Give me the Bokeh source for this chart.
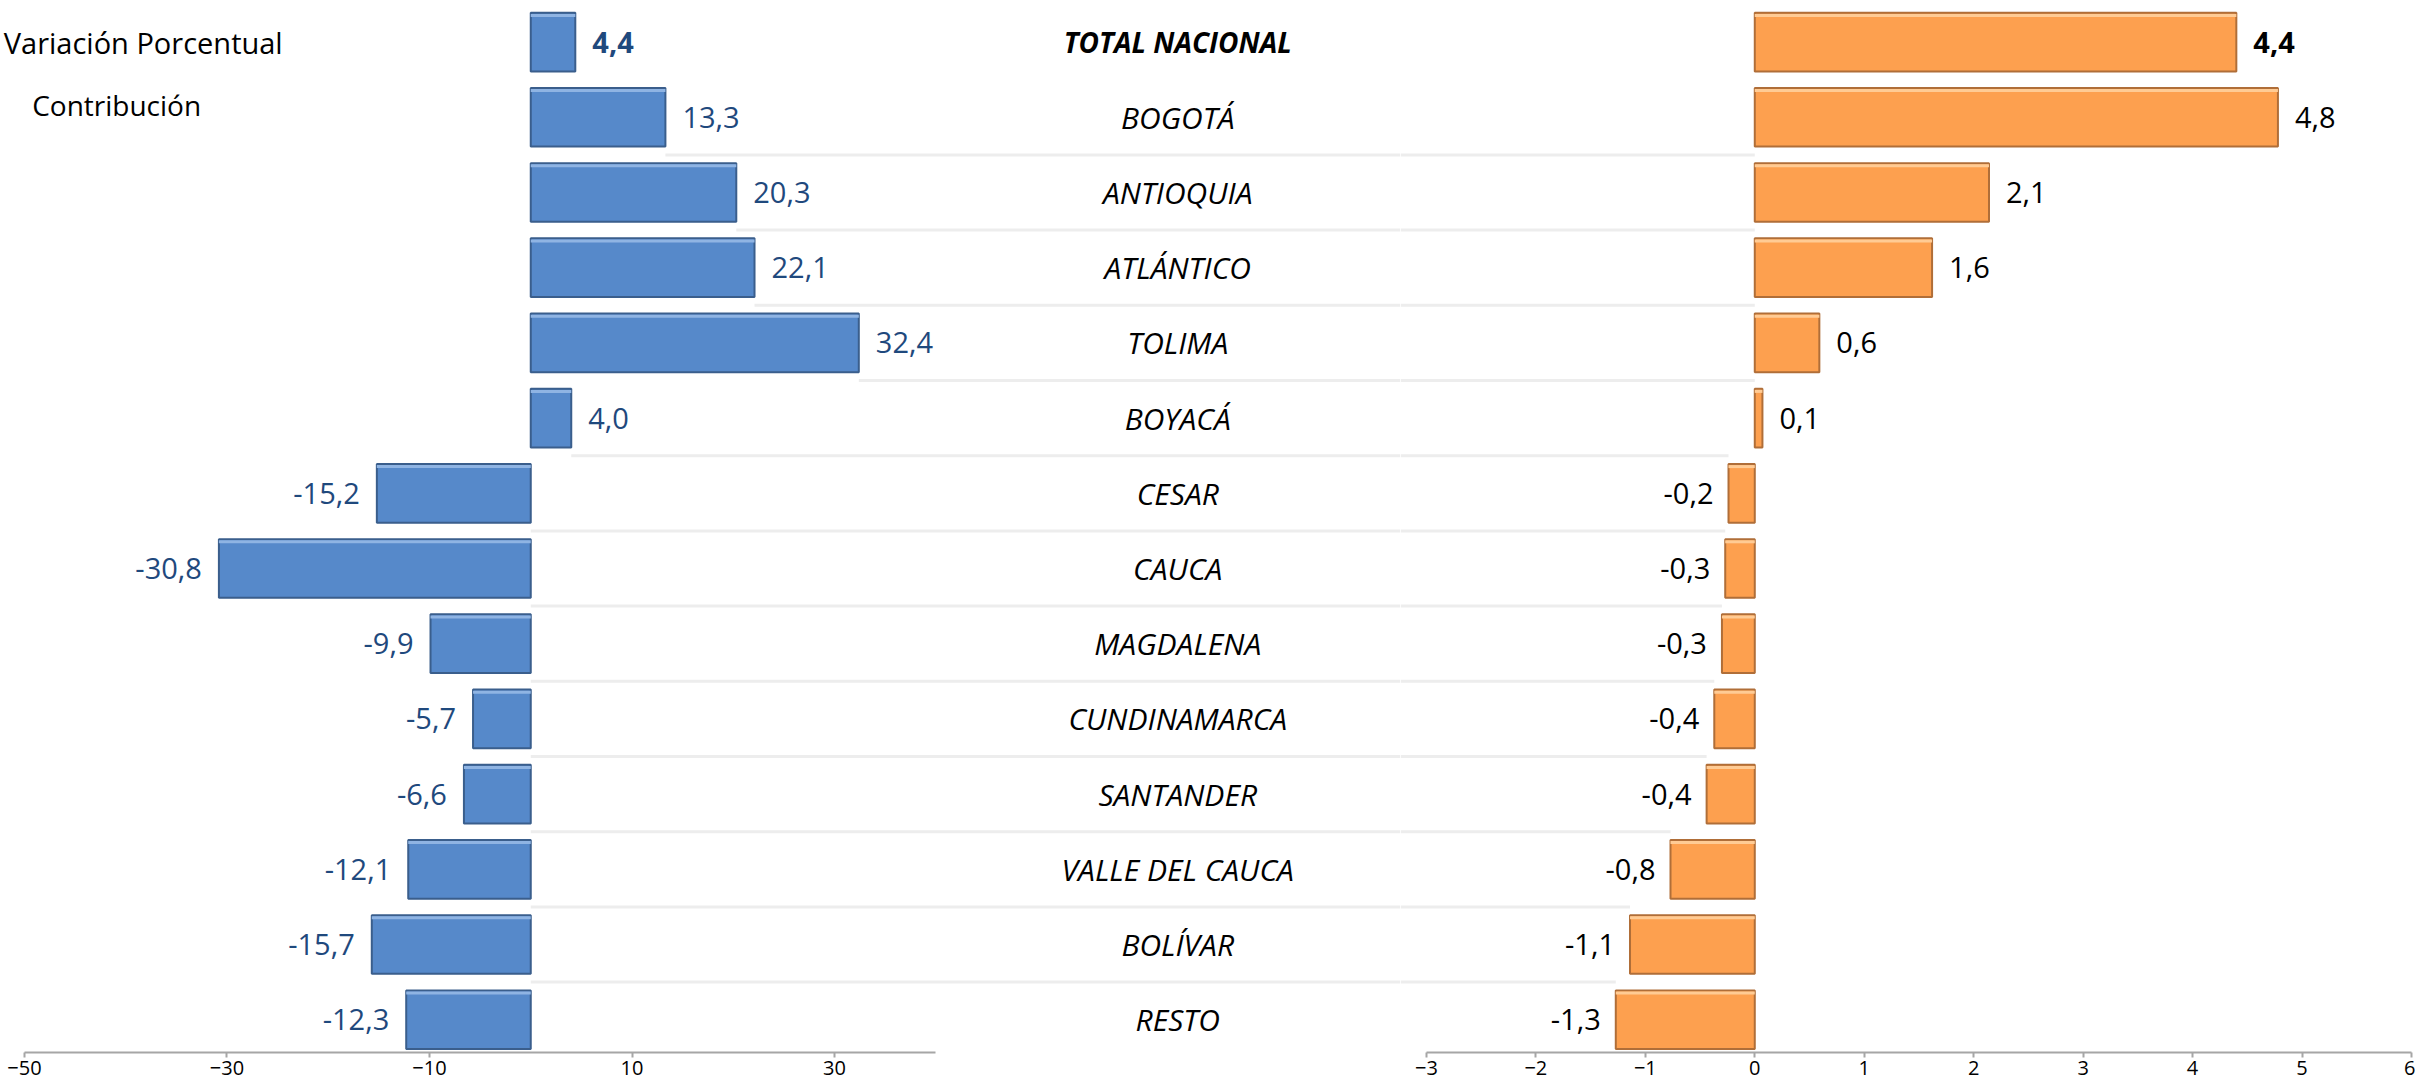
from bokeh.plotting import figure
from bokeh.layouts import row
from bokeh.models import Range1d, FixedTicker, ColumnDataSource, Label
from bokeh.core.properties import value
from bokeh.embed import file_html
from bokeh.resources import INLINE

# ---------------- data ----------------
categories = ["TOTAL NACIONAL", "BOGOTÁ", "ANTIOQUIA", "ATLÁNTICO", "TOLIMA", "BOYACÁ",
              "CESAR", "CAUCA", "MAGDALENA", "CUNDINAMARCA", "SANTANDER",
              "VALLE DEL CAUCA", "BOLÍVAR", "RESTO"]
variacion = [4.4, 13.3, 20.3, 22.1, 32.4, 4.0, -15.2, -30.8, -9.9, -5.7, -6.6, -12.1, -15.7, -12.3]
contribucion = [4.4, 4.78, 2.14, 1.62, 0.59, 0.07, -0.24, -0.27, -0.30, -0.37, -0.44, -0.77, -1.14, -1.27]
left_ticks = [-50, -30, -10, 10, 30]
right_ticks = [-3, -2, -1, 0, 1, 2, 3, 4, 5, 6]
legend_labels = ["Variación Porcentual", "Contribución"]

# ---------------- styles ----------------
FONT = "Open Sans"
BLUE = "#5689CA"
BLUE_DARK = "#3A5E8C"
BLUE_HI = "#8FB4E3"
BLUE_TXT = "#1F497D"
ORANGE = "#FDA04F"
ORANGE_DARK = "#B06E38"
ORANGE_HI = "#FFCB94"
AXIS_GRAY = "#A6A6A6"
SEP = "#EDEDED"
ROW_H = 0.78

n = len(categories)
ys = list(range(n))


def fmt(v):
    return f"{v:.1f}".replace(".", ",")


y_rng = Range1d(13.436, -0.553)
styles = ["bold"] + ["normal"] * (n - 1)


def base_fig(width, xr, bounds, ticks):
    p = figure(width=width, height=1081, x_range=xr, y_range=y_rng,
               output_backend="svg", toolbar_location=None, y_axis_location=None,
               min_border_left=0, min_border_right=0, min_border_top=0,
               min_border_bottom=29, outline_line_color=None,
               background_fill_color="white", border_fill_color="white")
    p.grid.visible = False
    ax = p.xaxis[0]
    ax.ticker = FixedTicker(ticks=ticks)
    ax.bounds = bounds
    ax.axis_line_color = AXIS_GRAY
    ax.axis_line_width = 2
    ax.major_tick_line_color = AXIS_GRAY
    ax.major_tick_line_width = 2
    ax.major_tick_out = 5
    ax.major_tick_in = 0
    ax.minor_tick_line_color = None
    ax.major_label_standoff = 3
    ax.major_label_text_font = FONT
    ax.major_label_text_font_size = "20px"
    ax.major_label_text_color = "#000000"
    return p


# ---------------- left panel: Variación porcentual ----------------
L_START, L_END = -52.37, 85.90
p1 = base_fig(1400, Range1d(L_START, L_END), (-50, 40), left_ticks)

# row separators
sep_rows = list(range(1, n - 1))
p1.segment(x0=[max(0, variacion[i]) for i in sep_rows], x1=[L_END] * len(sep_rows),
           y0=[i + 0.5 for i in sep_rows], y1=[i + 0.5 for i in sep_rows],
           line_color=SEP, line_width=3)

src1 = ColumnDataSource(dict(
    y=ys, v=variacion,
    y_hi=[y - ROW_H / 2 + 0.035 for y in ys],
    lab=[fmt(v) for v in variacion],
    align=["left" if v >= 0 else "right" for v in variacion],
    xoff=[17 if v >= 0 else -17 for v in variacion],
    style=styles,
))
p1.hbar(y="y", left=0, right="v", height=ROW_H, source=src1,
        fill_color=BLUE, line_color=BLUE_DARK, line_width=2)
p1.segment(x0=0, x1="v", y0="y_hi", y1="y_hi", source=src1,
           line_color=BLUE_HI, line_width=3)
p1.text(x="v", y="y", text="lab", source=src1, x_offset="xoff",
        text_align="align", text_baseline="middle",
        text_font=value(FONT), text_font_size="29px", text_font_style="style",
        text_color=BLUE_TXT)

# category labels (centre column)
LABEL_X = 63.9
src_c = ColumnDataSource(dict(
    y=ys, name=categories,
    style=["bold italic"] + ["italic"] * (n - 1),
    size=["28px"] + ["30px"] * (n - 1),
))
p1.text(x=LABEL_X, y="y", text="name", source=src_c,
        text_align="center", text_baseline="middle",
        text_font=value(FONT), text_font_size="size", text_font_style="style",
        text_color="#000000")

# legend texts
p1.add_layout(Label(x=-24.5, y=0, text=legend_labels[0], text_align="right",
                    text_baseline="middle", text_font=FONT, text_font_size="29px",
                    text_color="#000000"))
p1.add_layout(Label(x=-40.9, y=0.84, text=legend_labels[1], text_align="center",
                    text_baseline="middle", text_font=FONT, text_font_size="28px",
                    text_color="#000000"))

# ---------------- right panel: Contribución ----------------
R_START, R_END = -3.237, 6.037
p2 = base_fig(1015, Range1d(R_START, R_END), (-3, 6), right_ticks)

p2.segment(x0=[R_START] * len(sep_rows), x1=[min(0, contribucion[i + 1]) for i in sep_rows],
           y0=[i + 0.5 for i in sep_rows], y1=[i + 0.5 for i in sep_rows],
           line_color=SEP, line_width=3)

src2 = ColumnDataSource(dict(
    y=ys, v=contribucion,
    y_hi=[y - ROW_H / 2 + 0.035 for y in ys],
    lab=[fmt(v) for v in contribucion],
    align=["left" if v >= 0 else "right" for v in contribucion],
    xoff=[17 if v >= 0 else -15 for v in contribucion],
    style=styles,
))
p2.hbar(y="y", left=0, right="v", height=ROW_H, source=src2,
        fill_color=ORANGE, line_color=ORANGE_DARK, line_width=2)
p2.segment(x0=0, x1="v", y0="y_hi", y1="y_hi", source=src2,
           line_color=ORANGE_HI, line_width=3)
p2.text(x="v", y="y", text="lab", source=src2, x_offset="xoff",
        text_align="align", text_baseline="middle",
        text_font=value(FONT), text_font_size="29px", text_font_style="style",
        text_color="#000000")

layout = row(p1, p2)
open("out.html", "w").write(file_html(layout, INLINE, title="Variación y contribución"))
